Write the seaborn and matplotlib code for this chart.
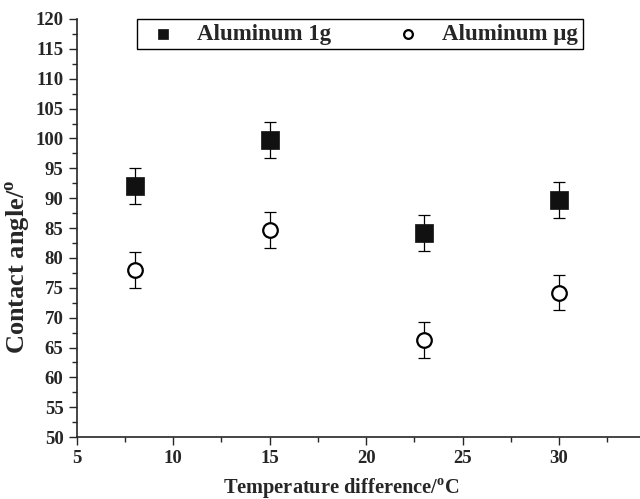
import numpy as np
import pandas as pd
import matplotlib
matplotlib.use("Agg")
import matplotlib.pyplot as plt
import seaborn as sns
from matplotlib.ticker import MultipleLocator

# data
temp_diff = [8, 15, 23, 30]
angle_1g = [92.1, 99.7, 84.1, 89.7]
angle_ug = [78.0, 84.7, 66.2, 74.2]
err_1g = [3.0, 3.0, 3.0, 3.0]
err_ug = [3.0, 3.0, 3.0, 3.0]

sns.set_style("ticks")
plt.rcParams["font.family"] = ["Liberation Serif", "DejaVu Serif"]
plt.rcParams["font.weight"] = "bold"

fig = plt.figure(figsize=(6.4, 4.99), dpi=100)
ax = fig.add_axes([0.12, 0.124, 0.88, 0.838])

# error bars first, markers on top
ax.errorbar(temp_diff, angle_1g, yerr=err_1g, fmt="none", ecolor="black",
            elinewidth=0.9, capsize=4, capthick=0.9, zorder=1)
ax.errorbar(temp_diff, angle_ug, yerr=err_ug, fmt="none", ecolor="black",
            elinewidth=0.9, capsize=4, capthick=0.9, zorder=1)

sns.scatterplot(x=temp_diff, y=angle_1g, marker="s", s=150, color="#111111",
                edgecolor="#111111", linewidth=0.5, ax=ax, zorder=3,
                label="Aluminum 1g")
sns.scatterplot(x=temp_diff, y=angle_ug, marker="o", s=110, facecolor="white",
                edgecolor="black", linewidth=1.6, ax=ax, zorder=3,
                label="Aluminum \u03bcg")

ax.set_xlim(5, 34.2)
ax.set_ylim(50, 120)
ax.xaxis.set_major_locator(MultipleLocator(5))
ax.xaxis.set_minor_locator(MultipleLocator(2.5))
ax.yaxis.set_major_locator(MultipleLocator(5))
ax.yaxis.set_minor_locator(MultipleLocator(2.5))
ax.tick_params(which="major", direction="out", length=6, width=1, labelsize=13.5)
ax.tick_params(which="minor", direction="out", length=3.5, width=1)
for lab in ax.get_xticklabels() + ax.get_yticklabels():
    lab.set_fontweight("bold")

sns.despine(ax=ax)
ax.spines["left"].set_linewidth(1.2)
ax.spines["bottom"].set_linewidth(1.2)

ax.set_xlabel("Temperature difference/$^\\mathregular{o}$C", fontsize=14.7,
              fontweight="bold")
ax.set_ylabel("Contact angle/$^\\mathregular{o}$", fontsize=19,
              fontweight="bold")
ax.xaxis.set_label_coords(0.47, -0.093)
ax.yaxis.set_label_coords(-0.077, 0.407)

leg = ax.legend(loc="upper center", bbox_to_anchor=(0.503, 1.0), ncol=2,
                frameon=True, fancybox=False, edgecolor="black",
                prop={"weight": "bold", "size": 16.5}, markerscale=0.6,
                columnspacing=2.45, handletextpad=0.6, borderpad=0.2,
                handlelength=1.8, borderaxespad=0)
leg.get_frame().set_linewidth(1.0)
leg.get_frame().set_alpha(1)

fig.savefig("out.png", dpi=100)
